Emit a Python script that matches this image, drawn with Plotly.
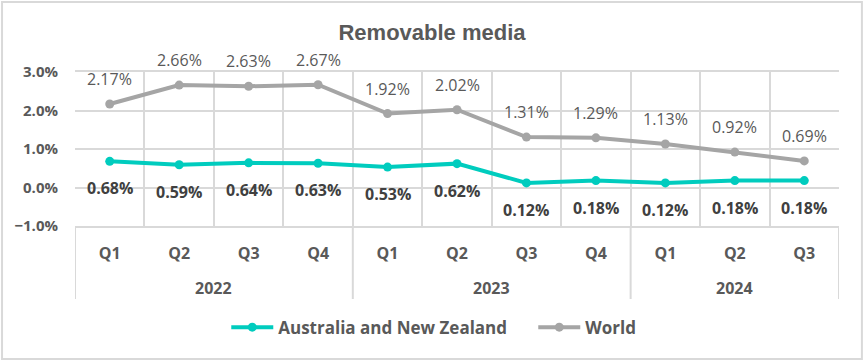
import plotly.graph_objects as go

quarters = ["Q1", "Q2", "Q3", "Q4", "Q1", "Q2", "Q3", "Q4", "Q1", "Q2", "Q3"]
years = ["2022"] * 4 + ["2023"] * 4 + ["2024"] * 3
anz = [0.68, 0.59, 0.64, 0.63, 0.53, 0.62, 0.12, 0.18, 0.12, 0.18, 0.18]
world = [2.17, 2.66, 2.63, 2.67, 1.92, 2.02, 1.31, 1.29, 1.13, 0.92, 0.69]

ANZ_COLOR = "#00CCBE"
WORLD_COLOR = "#A5A5A5"
TEXT = "#595959"
GRID = "#D9D9D9"
FONT = "Open Sans, Noto Sans, sans-serif"

idx = list(range(len(quarters)))

fig = go.Figure()
fig.add_trace(go.Scatter(
    x=idx, y=anz, name="Australia and New Zealand",
    mode="lines+markers", line=dict(color=ANZ_COLOR, width=4),
    marker=dict(color=ANZ_COLOR, size=9)))
fig.add_trace(go.Scatter(
    x=idx, y=world, name="World",
    mode="lines+markers", line=dict(color=WORLD_COLOR, width=4),
    marker=dict(color=WORLD_COLOR, size=9)))

ann = []
for i, v in enumerate(world):
    ann.append(dict(x=i, y=v, xref="x", yref="y", text=f"{v:.2f}%", showarrow=False,
                    yshift=25, font=dict(family=FONT, size=16, color=TEXT)))
for i, v in enumerate(anz):
    ann.append(dict(x=i, y=v, xref="x", yref="y", text=f"<b>{v:.2f}%</b>", showarrow=False,
                    yshift=-27, font=dict(family=FONT, size=16, color="#404040")))

# year group labels and dividers
groups = []
for i, y in enumerate(years):
    if not groups or groups[-1][0] != y:
        groups.append([y, i, i])
    else:
        groups[-1][2] = i
shapes = [dict(type="rect", xref="paper", yref="paper", x0=-0.0955, x1=1.030, y0=-0.864, y1=1.4545,
               line=dict(color=GRID, width=2), fillcolor="rgba(0,0,0,0)", layer="below")]
bounds = sorted({g[1] - 0.5 for g in groups} | {g[2] + 0.5 for g in groups})
for b in bounds:
    shapes.append(dict(type="line", xref="x", yref="paper", x0=b, x1=b, y0=-0.474, y1=0,
                       line=dict(color=GRID, width=2)))
for name, a, b in groups:
    ann.append(dict(x=(a + b) / 2, y=-0.40, xref="x", yref="paper", text=f"<b>{name}</b>",
                    showarrow=False, yanchor="middle",
                    font=dict(family=FONT, size=16, color=TEXT)))

fig.update_layout(
    width=864, height=361,
    margin=dict(l=75, r=25, t=72, b=135, autoexpand=False),
    paper_bgcolor="white", plot_bgcolor="white",
    title=dict(text="<b>Removable media</b>", x=0.5, xanchor="center", y=0.91, yanchor="middle",
               font=dict(family="Liberation Sans Narrow, Liberation Sans, sans-serif", size=22, color=TEXT)),
    showlegend=True,
    legend=dict(orientation="h", x=0.198, xanchor="left", y=-0.66, yanchor="middle",
                font=dict(family=FONT, size=17, color=TEXT, weight="bold"), itemwidth=42,
                entrywidth=250, entrywidthmode="pixels",
                traceorder="normal"),
    annotations=ann,
    shapes=shapes,
)
fig.update_xaxes(tickmode="array", tickvals=idx, ticktext=quarters, showgrid=False,
                 minor=dict(tick0=-0.5, dtick=1, showgrid=True, gridcolor=GRID, gridwidth=2, ticks=""),
                 ticks="", zeroline=False,
                 range=[-0.5, len(idx) - 0.5], showline=True, linecolor=GRID, linewidth=2, mirror=True,
                 ticklabelstandoff=12,
                 tickfont=dict(family=FONT, size=16, color=TEXT, weight="bold"))
fig.update_yaxes(range=[-1, 3], dtick=1, tickformat=".1f", ticksuffix="%", showgrid=True,
                 gridcolor=GRID, gridwidth=2, zeroline=False, ticklabelstandoff=16,
                 tickfont=dict(family=FONT, size=15, color=TEXT, weight="bold"))

fig.write_html("out.html", config={"displayModeBar": False},
               post_script="document.body.style.margin='0';")
